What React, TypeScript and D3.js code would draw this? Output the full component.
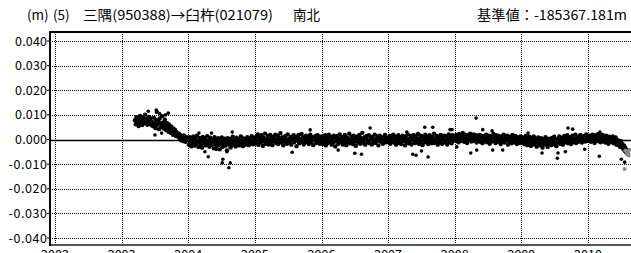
import React from 'react';
import * as d3 from 'd3';

// samples every 4 days, values in 0.1 mm (1e-4 m)
const STEP = 4 / 365.25;

const vals2003 = [
  78, 62, 91, 70, 84, 55, 73, 96, 68, 80, 59, 88, 74, 66, 101, 71, 83, 60, 77, 92, 65, 86, 72, 58,
  70, 54, 88, 63, 47, 79, 112, 60, 73, 42, 85, 66, 51, 95, 58, 69, 44, 80,
  57, 38, 66, 49, 31, 60, 42, 27, 52, 35, 19, 44, 28, 39, 14, 30, 22,
  12, 25, 6, 18, -3, 14, 8, -6, 16, 2, -9, 10, -2, 5,
];
const vals2004 = [
  -2, -21, 9, -14, -28, 4, -17, 12, -9, -25, 2, -15, 15, -5, -30, -11, 6, -20, -3, -33,
  10, -16, -7, 3, -24, -12, 13, -19, -4, -29, 7, -13, -23, 0, -9, -36, 9, -18, -5, -26,
  -12, 5, -22, -40, -2, -15, 8, -30, -8, -19, 3, -25, -13, -44, 5, -10, -21, 2, -32, -6,
  -16, 11, -23, -9, -3, -28, 7, -13, -19, 1, -24, -10, 12, -18, -5, -27, 4, -12, -21, -2,
  -15, 9, -7, -23, 3, -16, -10, 13, -4, -19, -9,
];
const vals2005 = [
  5, -16, 12, -6, 21, -22, 0, 9, -12, 17, -3, -26, 7, -9, 24, -17, 3, -5, 14, -20,
  -1, 18, -11, 6, -23, 11, -7, 2, 20, -14, -3, 15, -18, 8, -6, 26, -12, 0, 9, -24,
  4, -9, 14, -2, -17, 21, -5, 3, -14, 10, -21, 6, -3, 17, -10, 0, 12, -27, 7, -6,
  18, -15, 2, -9, 23, -3, 9, -20, 4, -12, 15, -1, -8, 12, -18, 3, 19, -11, -5, 9,
  -23, 6, -3, 14, -14, 2, 17, -9, 4, -17, 11,
];
const vals2006 = [
  -5, 12, -18, 3, -11, 17, -24, 0, 8, -14, 20, -6, -2, 11, -21, 5, -12, 15, -8, -28,
  6, -3, 14, -17, 2, 21, -9, -5, 9, -20, 3, -14, 18, -1, -23, 8, -11, 0, 24, -15,
  -6, 11, -3, -18, 15, -9, 5, -26, 2, 12, -12, -4, 18, -17, 6, -8, 27, -14, -2, 9,
  -21, 3, 14, -11, -5, 17, -15, 0, 8, -20, 11, -3, -9, 20, -14, 2, -6, 12, -24, 5,
  15, -8, -1, 9, -17, 3, -12, 18, -5, -11, 6,
];
const vals2007 = [
  3, -9, 14, -17, 0, 8, -5, 20, -12, -1, 11, -21, 5, -8, 17, -14, 2, 9, -18, -3,
  15, -6, 6, -24, 12, -11, 0, 21, -15, 3, -5, 14, -20, 8, -2, 18, -9, -14, 11, 2,
  -6, 23, -17, 5, -11, 15, -3, -23, 9, 0, -12, 20, -8, 3, 12, -18, -2, 17, -9, 6,
  -15, 11, -5, 24, -14, 2, -8, 14, -21, 5, 9, -11, 18, -3, -17, 8, 0, 15, -12, -6,
  12, -20, 3, 21, -9, -2, 9, -15, 17, -5, 2,
];
const vals2008 = [
  8, -5, 18, 0, 12, -11, 23, 3, -6, 15, -2, 27, 6, -9, 20, 2, 11, -14, 17, 5,
  -3, 24, 9, -8, 14, 0, 21, -5, 6, 17, -12, 11, 3, -2, 18, -9, 8, 14, -15, 5,
  12, -6, 2, 20, -11, 9, -3, 15, -17, 3, 11, -8, 0, 23, -5, 6, -14, 17, 2, -9,
  14, -2, 8, -18, 12, 3, -6, 20, -12, 0, 9, -3, 15, -21, 5, -8, 11, 2, -15, 18,
  -5, 6, -11, 14, 0, -18, 9, -2, 5, -14, 12,
];
const vals2009 = [
  -2, 9, -12, 5, -18, 0, 14, -8, -23, 3, -14, 11, -5, -26, 6, -15, -2, 12, -20, -6,
  2, -29, -11, 8, -17, -3, -24, 5, -12, -33, 0, -18, -8, 9, -21, -5, -30, 3, -14, -9,
  -2, -23, 6, -15, -6, 11, -20, -3, -27, 2, -11, -5, 12, -17, 0, -9, 8, -21, -3, 14,
  -12, 5, -8, 17, -15, 2, 9, -6, -18, 6, 15, -11, 3, -3, 20, -14, 8, 0, -9, 12,
  -5, 18, 2, -12, 9, -2, 14, -8, 5, 21, -6,
];
const vals2010 = [
  6, -5, 15, 2, -9, 12, 20, -3, 8, -14, 17, 3, -6, 11, 23, -2, 5, -11, 14, 0,
  18, -8, 9, 3, -12, 15, -2, 6, -17, 11, 5, -9, 2, -5, 12, -15, 0, -8, 8, -21,
  -10, -3, -23, -14, -30, -6, -27, -18, -37, -24, -45, -33, -52, -42, -58,
];

const segments = [
  { start: 2003.2, vals: vals2003 },
  { start: 2004.0, vals: vals2004 },
  { start: 2005.0, vals: vals2005 },
  { start: 2006.0, vals: vals2006 },
  { start: 2007.0, vals: vals2007 },
  { start: 2008.0, vals: vals2008 },
  { start: 2009.0, vals: vals2009 },
  { start: 2010.0, vals: vals2010 },
];

// scattered single points [year, m]
const outliers: [number, number][] = [
  [2003.40, 0.0115], [2003.52, 0.012], [2003.57, 0.0105], [2003.62, 0.0095], [2003.66, 0.010], [2003.70, 0.0107],
  [2003.50, 0.0018], [2003.60, 0.0026],
  [2004.16, 0.0026], [2004.19, -0.003], [2004.25, -0.005], [2004.30, -0.007], [2004.35, 0.0026], [2004.42, -0.004],
  [2004.52, -0.008], [2004.51, -0.0095], [2004.63, -0.0095], [2004.61, -0.0115], [2004.58, -0.005], [2004.66, 0.003],
  [2005.56, -0.0052], [2005.75, -0.0015], [2005.83, 0.0039], [2006.25, -0.0043], [2006.50, -0.0056], [2006.60, -0.006],
  [2006.73, 0.0047], [2007.28, 0.003], [2007.37, -0.006], [2007.42, -0.0064], [2007.50, -0.0047], [2007.55, 0.005],
  [2007.60, -0.0071], [2007.67, 0.005], [2007.93, 0.004], [2007.96, 0.004], [2008.03, -0.003], [2008.24, -0.0055],
  [2008.32, 0.0087], [2008.33, -0.0043], [2008.42, 0.004], [2008.56, 0.0035], [2008.57, -0.0043], [2008.72, -0.0043],
  [2009.10, 0.0026], [2009.31, -0.0055], [2009.54, -0.0076], [2009.55, -0.0055], [2009.66, -0.005], [2009.70, 0.0047],
  [2009.77, 0.0042], [2009.95, -0.004], [2010.17, -0.0068], [2010.18, 0.003], [2010.50, -0.008], [2010.55, -0.0092],
];

const grayPts: [number, number][] = [
  [2010.56, -0.0045], [2010.58, -0.0055], [2010.59, -0.006], [2010.60, -0.005], [2010.61, -0.0065],
  [2010.62, -0.0042], [2010.55, -0.012],
];

const yearTicks = [2002, 2003, 2004, 2005, 2006, 2007, 2008, 2009, 2010];
const yTicks = [0.04, 0.03, 0.02, 0.01, 0, -0.01, -0.02, -0.03, -0.04];

const W = 631, H = 253;
const left = 50, top = 32, bottom = 245;
const FONT = '"Noto Sans CJK JP", sans-serif';

const x = d3.scaleLinear().domain([2002, 2010]).range([55, 588]);
const y = d3.scaleLinear().domain([0.04, -0.04]).range([41, 238]);

const fmt = (v: number) => (v < 0 ? '-' : '') + Math.abs(v).toFixed(3);

export default function App() {
  const points: [number, number][] = [];
  segments.forEach(s => s.vals.forEach((v, i) => points.push([s.start + i * STEP, v / 10000])));

  return (
    <svg width={W} height={H} style={{ position: 'absolute', left: 0, top: 0 }} fontFamily={FONT}>
      <rect width={W} height={H} fill="#fff" />
      <defs>
        <clipPath id="plot">
          <rect x={left} y={top} width={W - left} height={bottom - top} />
        </clipPath>
      </defs>

      {/* title */}
      <g fontSize={13.5} fill="#000">
        <text x={27} y={20}>(m)</text>
        <text x={53} y={20}>(5)</text>
        <text x={83} y={20} textLength={190} lengthAdjust="spacingAndGlyphs">三隅(950388)→臼杵(021079)</text>
        <text x={293} y={20}>南北</text>
        <text x={627} y={20} textAnchor="end" textLength={150} lengthAdjust="spacingAndGlyphs">基準値：-185367.181m</text>
      </g>

      {/* grid */}
      <g stroke="#000" strokeWidth={1} strokeDasharray="1,1">
        {yTicks.filter(t => t !== 0).map(t => (
          <line key={t} x1={left} x2={W} y1={Math.round(y(t)) + 0.5} y2={Math.round(y(t)) + 0.5} />
        ))}
        {yearTicks.map(t => (
          <line key={t} x1={Math.round(x(t)) + 0.5} x2={Math.round(x(t)) + 0.5} y1={top} y2={bottom} />
        ))}
      </g>
      <line x1={left} x2={W} y1={Math.round(y(0)) + 0.5} y2={Math.round(y(0)) + 0.5} stroke="#000" strokeWidth={1.5} />

      {/* data */}
      <g clipPath="url(#plot)">
        {points.map((p, i) => (
          <circle key={'p' + i} cx={x(p[0])} cy={y(p[1])} r={2.2} fill="#000" />
        ))}
        {outliers.map((p, i) => (
          <circle key={'o' + i} cx={x(p[0])} cy={y(p[1])} r={1.8} fill="#000" />
        ))}
        {grayPts.map((p, i) => (
          <circle key={'g' + i} cx={x(p[0])} cy={y(p[1])} r={2} fill="#8a8a8a" />
        ))}
      </g>

      {/* frame */}
      <line x1={left} x2={W} y1={top} y2={top} stroke="#000" strokeWidth={2} />
      <line x1={left} x2={W} y1={bottom} y2={bottom} stroke="#555" strokeWidth={2} />
      <line x1={left} x2={left} y1={top - 1} y2={bottom + 1} stroke="#000" strokeWidth={2} />

      {/* y axis */}
      <g fontSize={12.5} fill="#000">
        {yTicks.map(t => {
          const s = fmt(t);
          return (
            <g key={t}>
              <line x1={left - 3} x2={left} y1={y(t)} y2={y(t)} stroke="#000" />
              <text x={47} y={y(t) + 4.5} textAnchor="end" textLength={s.length * 6.4} lengthAdjust="spacing">{s}</text>
            </g>
          );
        })}
      </g>

      {/* x axis labels, cut off by the bottom edge as in the original */}
      <g fontSize={12.5} fill="#000" textAnchor="middle">
        {yearTicks.map(t => (
          <text key={t} x={x(t)} y={258.5}>{t}</text>
        ))}
      </g>
    </svg>
  );
}
